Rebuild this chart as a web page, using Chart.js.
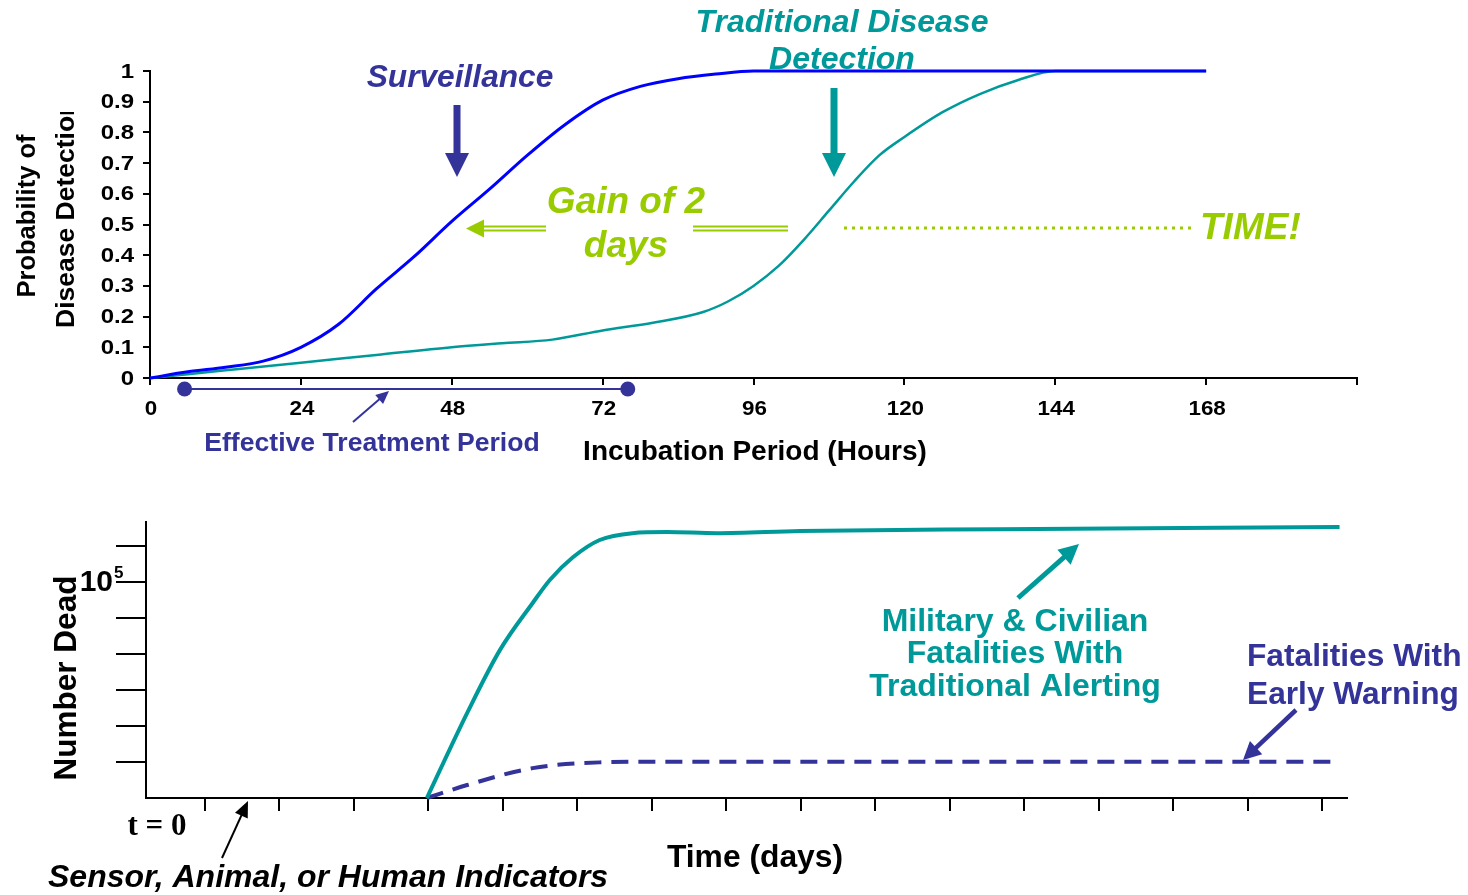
<!DOCTYPE html>
<html>
<head>
<meta charset="utf-8">
<script src="https://cdn.jsdelivr.net/npm/chart.js@4.4.1/dist/chart.umd.min.js"></script>
<style>
  html, body { margin: 0; padding: 0; background: #fff; }
  #wrap { position: relative; width: 1468px; height: 895px; overflow: hidden; }
  #topChart { position: absolute; left: 0; top: 0; }
  #bottomChart { position: absolute; left: 0; top: 470px; }
</style>
</head>
<body>
<div id="wrap">
  <canvas id="topChart" width="1468" height="470"></canvas>
  <canvas id="bottomChart" width="1468" height="425"></canvas>
</div>
<script>
// ---- top chart data (hours vs probability) ----
var surveillanceHours = [0, 6, 12, 18, 24, 30, 36, 42, 48, 54, 60, 66, 72, 78, 84, 90, 96, 108, 120, 144, 168];
var surveillanceProb  = [0, 0.02, 0.035, 0.055, 0.10, 0.175, 0.29, 0.395, 0.51, 0.615, 0.725, 0.825, 0.905, 0.95, 0.975, 0.99, 1, 1, 1, 1, 1];
var traditionalHours = [0, 12, 24, 36, 48, 56, 64, 72, 80, 88, 92, 96, 100, 104, 108, 112, 116, 120, 126, 132, 138, 144, 168];
var traditionalProb  = [0, 0.025, 0.05, 0.075, 0.10, 0.113, 0.125, 0.155, 0.18, 0.215, 0.25, 0.30, 0.365, 0.45, 0.545, 0.64, 0.725, 0.785, 0.865, 0.925, 0.97, 1.0, 1.0];
var hourTicks = [0, 24, 48, 72, 96, 120, 144, 168, 192];
var hourLabels = ['0', '24', '48', '72', '96', '120', '144', '168', ''];
var probTicks = [0, 0.1, 0.2, 0.3, 0.4, 0.5, 0.6, 0.7, 0.8, 0.9, 1];
var probLabels = ['0', '0.1', '0.2', '0.3', '0.4', '0.5', '0.6', '0.7', '0.8', '0.9', '1'];
var treatmentHours = [5.5, 76];

// ---- bottom chart data (days vs number dead, tick units) ----
var traditionalDays = [3.98, 4.52, 4.96, 5.40, 5.63, 5.94, 6.30, 6.74, 7.20, 7.87, 8.99, 11.67, 16.23];
var traditionalDead = [0, 2.36, 4.11, 5.42, 6.06, 6.69, 7.17, 7.36, 7.39, 7.36, 7.42, 7.47, 7.53];
var earlyDays = [3.98, 4.52, 5.40, 6.30, 7.20, 16.17];
var earlyDead = [0, 0.36, 0.83, 0.99, 1.01, 1.01];
var dayTicks = [1, 2, 3, 4, 5, 6, 7, 8, 9, 10, 11, 12, 13, 14, 15, 16];
var deadTicks = [1, 2, 3, 4, 5, 6, 7];

var PURPLE = '#333399', TEAL = '#009999', GREEN = '#99CC00', BLUE = '#0000FF';
var SANS = '"Liberation Sans", Arial, sans-serif';

function pts(xs, ys) { return xs.map(function (x, i) { return {x: x, y: ys[i]}; }); }

function txt(ctx, s, x, y, font, color, align, sx) {
  ctx.save();
  ctx.font = font; ctx.fillStyle = color;
  ctx.textAlign = align || 'center'; ctx.textBaseline = 'middle';
  ctx.translate(x, y); ctx.scale(sx || 1, 1);
  ctx.fillText(s, 0, 0);
  ctx.restore();
}

function lineArrow(ctx, x1, y1, x2, y2, color, w, head, hw) {
  var a = Math.atan2(y2 - y1, x2 - x1);
  ctx.save();
  ctx.strokeStyle = color; ctx.fillStyle = color; ctx.lineWidth = w;
  ctx.beginPath(); ctx.moveTo(x1, y1);
  ctx.lineTo(x2 - Math.cos(a) * head * 0.8, y2 - Math.sin(a) * head * 0.8); ctx.stroke();
  ctx.translate(x2, y2); ctx.rotate(a);
  ctx.beginPath(); ctx.moveTo(0, 0); ctx.lineTo(-head, -hw); ctx.lineTo(-head, hw); ctx.closePath(); ctx.fill();
  ctx.restore();
}

function blockArrowDown(ctx, x, y1, y2, color) {
  ctx.save(); ctx.fillStyle = color;
  ctx.fillRect(x - 3.5, y1, 7, (y2 - y1) - 22);
  ctx.beginPath(); ctx.moveTo(x - 12, y2 - 24); ctx.lineTo(x + 12, y2 - 24); ctx.lineTo(x, y2); ctx.closePath(); ctx.fill();
  ctx.restore();
}

var axisGrid = {display: true, drawOnChartArea: false, drawTicks: true, color: '#000', lineWidth: 2};

var topDecor = {
  id: 'topDecor',
  afterDraw: function (chart) {
    var ctx = chart.ctx, xs = chart.scales.x, ys = chart.scales.y;
    // tick labels from the scales
    hourTicks.forEach(function (v, i) {
      txt(ctx, hourLabels[i], xs.getPixelForValue(v) + 1, 409, 'bold 20px ' + SANS, '#000', 'center', 1.12);
    });
    probTicks.forEach(function (v, i) {
      txt(ctx, probLabels[i], 134, ys.getPixelForValue(v) + 1, 'bold 20px ' + SANS, '#000', 'right', 1.2);
    });
    // axis titles
    ctx.save(); ctx.translate(28, 216); ctx.rotate(-Math.PI / 2);
    ctx.font = 'bold 25.5px ' + SANS; ctx.fillStyle = '#000'; ctx.textAlign = 'center'; ctx.textBaseline = 'middle';
    ctx.fillText('Probability of', 0, 0); ctx.restore();
    ctx.save(); ctx.beginPath(); ctx.rect(40, 112, 60, 260); ctx.clip();
    ctx.translate(67, 328); ctx.rotate(-Math.PI / 2);
    ctx.font = 'bold 26.5px ' + SANS; ctx.fillStyle = '#000'; ctx.textAlign = 'left'; ctx.textBaseline = 'middle';
    ctx.fillText('Disease Detection', 0, 0); ctx.restore();
    txt(ctx, 'Incubation Period (Hours)', 755, 452, 'bold 28px ' + SANS, '#000', 'center');

    // effective treatment period
    var yT = 389, xa = xs.getPixelForValue(treatmentHours[0]), xb = xs.getPixelForValue(treatmentHours[1]);
    ctx.save(); ctx.strokeStyle = PURPLE; ctx.lineWidth = 2;
    ctx.beginPath(); ctx.moveTo(xa, yT); ctx.lineTo(xb, yT); ctx.stroke();
    ctx.fillStyle = PURPLE;
    ctx.beginPath(); ctx.arc(xa, yT, 7.5, 0, Math.PI * 2); ctx.fill();
    ctx.beginPath(); ctx.arc(xb, yT, 7.5, 0, Math.PI * 2); ctx.fill();
    ctx.restore();
    lineArrow(ctx, 353, 422, 389, 391, PURPLE, 2, 13, 6);
    txt(ctx, 'Effective Treatment Period', 372, 444, 'bold 26.6px ' + SANS, PURPLE, 'center');

    // callouts
    txt(ctx, 'Surveillance', 460, 78, 'italic bold 31.7px ' + SANS, PURPLE, 'center');
    blockArrowDown(ctx, 457, 105, 177, PURPLE);
    txt(ctx, 'Traditional Disease', 842, 23, 'italic bold 32px ' + SANS, TEAL, 'center');
    txt(ctx, 'Detection', 842, 60, 'italic bold 32px ' + SANS, TEAL, 'center');
    blockArrowDown(ctx, 834, 88, 177, TEAL);

    txt(ctx, 'Gain of 2', 626, 203, 'italic bold 37px ' + SANS, GREEN, 'center');
    txt(ctx, 'days', 626, 247, 'italic bold 37px ' + SANS, GREEN, 'center');
    ctx.save(); ctx.strokeStyle = GREEN; ctx.fillStyle = GREEN; ctx.lineWidth = 2;
    [226.5, 230.5].forEach(function (y) {
      ctx.beginPath(); ctx.moveTo(481, y); ctx.lineTo(546, y); ctx.stroke();
      ctx.beginPath(); ctx.moveTo(693, y); ctx.lineTo(788, y); ctx.stroke();
    });
    ctx.beginPath(); ctx.moveTo(466, 228.5); ctx.lineTo(484, 219.5); ctx.lineTo(484, 237.5); ctx.closePath(); ctx.fill();
    ctx.lineWidth = 3; ctx.setLineDash([3, 5]);
    ctx.beginPath(); ctx.moveTo(844, 228); ctx.lineTo(1192, 228); ctx.stroke();
    ctx.restore();
    txt(ctx, 'TIME!', 1200, 229, 'italic bold 37px ' + SANS, GREEN, 'left');
  }
};

new Chart(document.getElementById('topChart'), {
  type: 'line',
  data: {
    datasets: [
      {label: 'Surveillance', data: pts(surveillanceHours, surveillanceProb), borderColor: BLUE, borderWidth: 3,
       pointRadius: 0, cubicInterpolationMode: 'monotone', fill: false},
      {label: 'Traditional', data: pts(traditionalHours, traditionalProb), borderColor: TEAL, borderWidth: 2.5,
       pointRadius: 0, cubicInterpolationMode: 'monotone', fill: false}
    ]
  },
  options: {
    responsive: false, animation: false, clip: false,
    layout: {padding: {top: 71, right: 111, left: 0, bottom: 0}},
    plugins: {legend: {display: false}, tooltip: {enabled: false}},
    scales: {
      x: {type: 'linear', min: 0, max: 192,
          afterFit: function (s) { s.height = 92; },
          afterBuildTicks: function (s) { s.ticks = hourTicks.map(function (v) { return {value: v}; }); },
          ticks: {display: false},
          grid: Object.assign({tickLength: 7}, axisGrid),
          border: {display: true, color: '#000', width: 2}},
      y: {min: 0, max: 1,
          afterFit: function (s) { s.width = 150; },
          afterBuildTicks: function (s) { s.ticks = probTicks.map(function (v) { return {value: v}; }); },
          ticks: {display: false},
          grid: Object.assign({tickLength: 7}, axisGrid),
          border: {display: true, color: '#000', width: 2}}
    }
  },
  plugins: [topDecor]
});

var bottomDecor = {
  id: 'bottomDecor',
  afterDraw: function (chart) {
    var ctx = chart.ctx, ys = chart.scales.y;
    var y5 = ys.getPixelForValue(6);
    txt(ctx, '10', 113, y5 + 1, 'bold 30px ' + SANS, '#000', 'right');
    txt(ctx, '5', 114, y5 - 9, 'bold 17px ' + SANS, '#000', 'left');
    ctx.save(); ctx.translate(67, 208); ctx.rotate(-Math.PI / 2);
    ctx.font = 'bold 31.5px ' + SANS; ctx.fillStyle = '#000'; ctx.textAlign = 'center'; ctx.textBaseline = 'middle';
    ctx.fillText('Number Dead', 0, 0); ctx.restore();
    txt(ctx, 't = 0', 157, 357, 'bold 31px "Liberation Serif", "Times New Roman", serif', '#000', 'center');
    txt(ctx, 'Sensor, Animal, or Human Indicators', 48, 408, 'italic bold 32px ' + SANS, '#000', 'left');
    lineArrow(ctx, 222, 388, 248, 331, '#000', 2, 16, 7);
    txt(ctx, 'Time (days)', 755, 388, 'bold 31.8px ' + SANS, '#000', 'center');

    ['Military & Civilian', 'Fatalities With', 'Traditional Alerting'].forEach(function (s, i) {
      txt(ctx, s, 1015, 152 + i * 32.5, 'bold 32px ' + SANS, TEAL, 'center');
    });
    lineArrow(ctx, 1018, 128, 1079, 74, TEAL, 5, 20, 10);
    txt(ctx, 'Fatalities With', 1247, 187, 'bold 31.7px ' + SANS, PURPLE, 'left');
    txt(ctx, 'Early Warning', 1247, 225, 'bold 31.7px ' + SANS, PURPLE, 'left');
    lineArrow(ctx, 1296, 240, 1243, 290, PURPLE, 4.5, 18, 9);
  }
};

new Chart(document.getElementById('bottomChart'), {
  type: 'line',
  data: {
    datasets: [
      {label: 'Traditional Alerting', data: pts(traditionalDays, traditionalDead), borderColor: TEAL, borderWidth: 4,
       pointRadius: 0, cubicInterpolationMode: 'monotone', fill: false},
      {label: 'Early Warning', data: pts(earlyDays, earlyDead), borderColor: PURPLE, borderWidth: 4,
       borderDash: [17, 10], pointRadius: 0, cubicInterpolationMode: 'monotone', fill: false}
    ]
  },
  options: {
    responsive: false, animation: false, clip: false,
    layout: {padding: {top: 52, right: 121, left: 0, bottom: 0}},
    plugins: {legend: {display: false}, tooltip: {enabled: false}},
    scales: {
      x: {type: 'linear', min: 0.21, max: 16.33,
          afterFit: function (s) { s.height = 97; },
          afterBuildTicks: function (s) { s.ticks = dayTicks.map(function (v) { return {value: v}; }); },
          ticks: {display: false},
          grid: Object.assign({tickLength: 13}, axisGrid),
          border: {display: true, color: '#000', width: 2}},
      y: {min: 0, max: 7.67,
          afterFit: function (s) { s.width = 146; },
          afterBuildTicks: function (s) { s.ticks = deadTicks.map(function (v) { return {value: v}; }); },
          ticks: {display: false},
          grid: Object.assign({tickLength: 30}, axisGrid),
          border: {display: true, color: '#000', width: 2}}
    }
  },
  plugins: [bottomDecor]
});
</script>
</body>
</html>
